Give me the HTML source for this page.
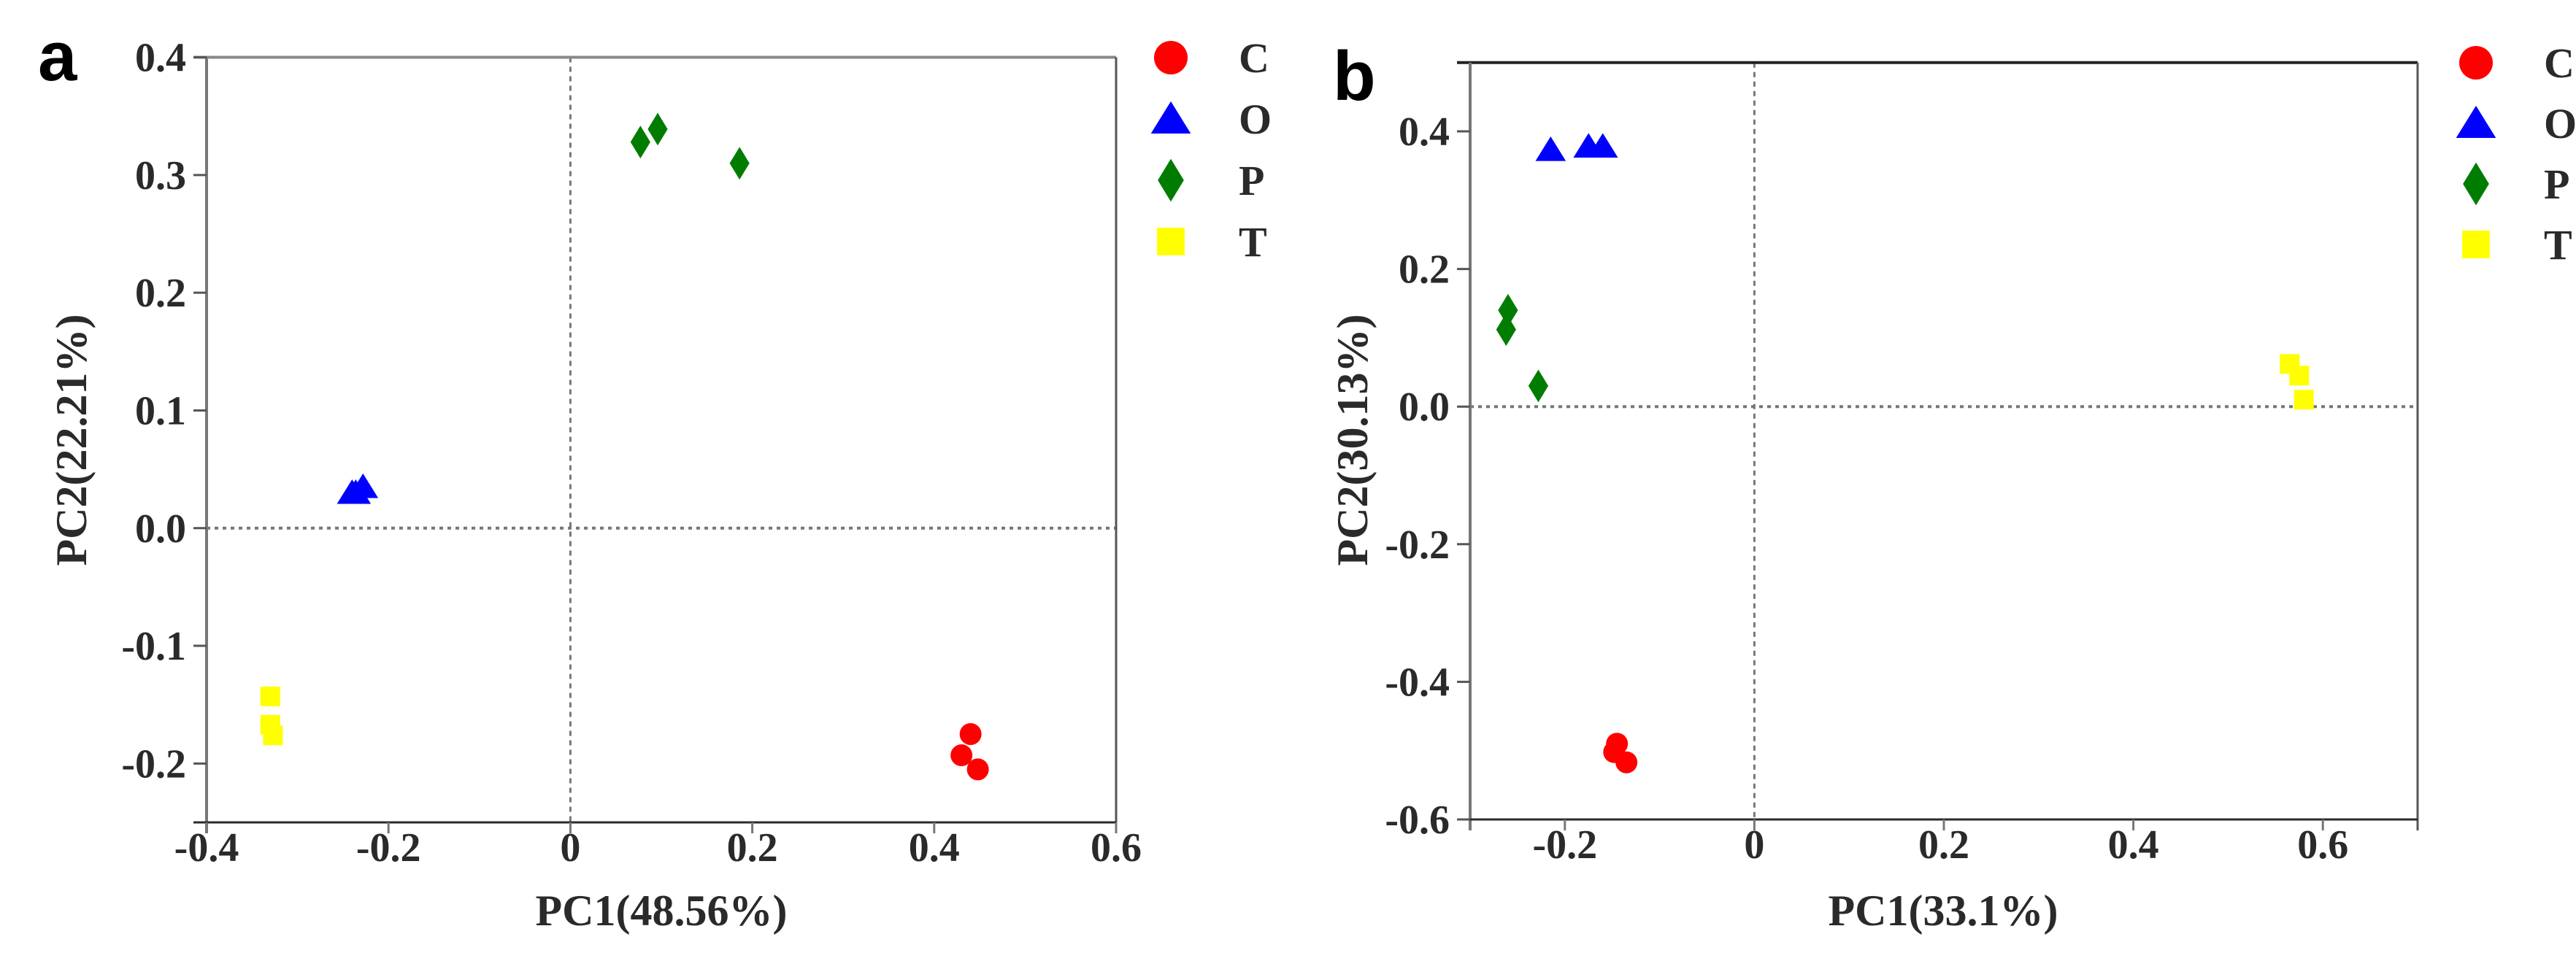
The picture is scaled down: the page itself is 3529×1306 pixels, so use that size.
<!DOCTYPE html>
<html><head><meta charset="utf-8"><style>
html,body{margin:0;padding:0;background:#fff;}
svg{display:block;}
text{font-family:"Liberation Serif",serif;font-weight:bold;fill:#2a2a2a;}
</style></head><body>
<svg id="chart" width="3529" height="1306" viewBox="0 0 3529 1306" xmlns="http://www.w3.org/2000/svg"></svg>
<script>
// Panel a data
const aCx=[0.440,0.430,0.448]; const aCy=[-0.175,-0.193,-0.205];
const aOx=[-0.240,-0.228,-0.236]; const aOy=[0.030,0.035,0.030];
const aPx=[0.077,0.096,0.186]; const aPy=[0.328,0.339,0.310];
const aTx=[-0.330,-0.330,-0.327]; const aTy=[-0.143,-0.167,-0.176];
const aXTicks=[-0.4,-0.2,0,0.2,0.4,0.6];
const aXTickLabels=["-0.4","-0.2","0","0.2","0.4","0.6"];
const aYTicks=[0.4,0.3,0.2,0.1,0.0,-0.1,-0.2];
const aYTickLabels=["0.4","0.3","0.2","0.1","0.0","-0.1","-0.2"];
// Panel b data
const bCx=[-0.145,-0.148,-0.135]; const bCy=[-0.490,-0.502,-0.517];
const bOx=[-0.215,-0.175,-0.160]; const bOy=[0.373,0.378,0.378];
const bPx=[-0.260,-0.262,-0.228]; const bPy=[0.140,0.112,0.030];
const bTx=[0.565,0.575,0.580]; const bTy=[0.062,0.045,0.010];
const bXTicks=[-0.2,0,0.2,0.4,0.6];
const bXTickLabels=["-0.2","0","0.2","0.4","0.6"];
const bYTicks=[0.4,0.2,0.0,-0.2,-0.4,-0.6];
const bYTickLabels=["0.4","0.2","0.0","-0.2","-0.4","-0.6"];
const groups=["C","O","P","T"];

const NS="http://www.w3.org/2000/svg";
const svg=document.getElementById('chart');
function el(tag,attrs,parent){const e=document.createElementNS(NS,tag);for(const k in attrs)e.setAttribute(k,attrs[k]);(parent||svg).appendChild(e);return e;}

function marker(g,type,cx,cy,s){
  let e;
  if(type==="C"){e=el('circle',{cx:cx,cy:cy,r:s,fill:'#ff0000'},g);}
  else if(type==="O"){e=el('polygon',{points:`${cx},${cy-s*1.15} ${cx-s*1.3},${cy+s*0.95} ${cx+s*1.3},${cy+s*0.95}`,fill:'#0000ff'},g);}
  else if(type==="P"){e=el('polygon',{points:`${cx},${cy-s*1.4} ${cx+s*0.85},${cy} ${cx},${cy+s*1.4} ${cx-s*0.85},${cy}`,fill:'#007d00'},g);}
  else {e=el('rect',{x:cx-s*0.9,y:cy-s*0.9,width:s*1.8,height:s*1.8,fill:'#ffff00'},g);}
  return e;
}

function panel(cfg){
  const g=el('g',{});
  
  
  const X=v=>cfg.x0+(v-cfg.xmin)*cfg.kx;
  const Y=v=>cfg.y0-(v-cfg.ymin)*cfg.ky;
  const L=X(cfg.xmin),R=X(cfg.xmax),T=Y(cfg.ymax),B=Y(cfg.ymin);
  // reference lines
  const vz=el('line',{x1:X(0),x2:X(0),y1:T,y2:B,stroke:'#777','stroke-width':3,'stroke-dasharray':'7,6'},g);
  
  
  const hz=el('line',{x1:L,x2:R,y1:Y(0),y2:Y(0),stroke:'#777','stroke-width':4,'stroke-dasharray':'5,6'},g);
  
  
  // frame
  const top=el('line',{x1:L-18,x2:R,y1:T,y2:T,stroke:cfg.topColor,'stroke-width':4},g);
  
  
  const rt=el('line',{x1:R,x2:R,y1:T,y2:B+15,stroke:'#555','stroke-width':3},g);
  
  
  const ya=el('line',{x1:L,x2:L,y1:T,y2:B+15,stroke:'#777','stroke-width':4},g);
  
  
  const xa=el('line',{x1:L-18,x2:R,y1:B,y2:B,stroke:'#2a2a2a','stroke-width':3},g);
  
  
  cfg.xt.forEach((v,i)=>{
    const t=el('line',{x1:X(v),x2:X(v),y1:B,y2:B+15,stroke:'#777','stroke-width':3},g);
    
    
    const tx=el('text',{x:X(v),y:B+53,'font-size':56,'text-anchor':'middle'},g);
    tx.textContent=cfg.xl[i];
    
    
  });
  cfg.yt.forEach((v,i)=>{
    const t=el('line',{x1:L-18,x2:L,y1:Y(v),y2:Y(v),stroke:'#555','stroke-width':3},g);
    
    
    const tx=el('text',{x:L-28,y:Y(v)+19,'font-size':56,'text-anchor':'end'},g);
    tx.textContent=cfg.yl[i];
    
    
  });
  const xt=el('text',{x:cfg.xtitleX,y:1268,'font-size':60,'text-anchor':'middle'},g);
  xt.textContent=cfg.xtitle;
  
  
  const ytt=el('text',{x:0,y:0,'font-size':60,'text-anchor':'middle',transform:`translate(${cfg.ytitleX},603) rotate(-90)`},g);
  ytt.textContent=cfg.ytitle;
  
  
  const lab=el('text',{x:cfg.labX,y:cfg.labY,'font-size':96,style:'font-family:"Liberation Sans",sans-serif;font-weight:bold;fill:#000'},g);
  lab.textContent=cfg.label;
  
  
  // points
  cfg.series.forEach(s=>{
    s.xs.forEach((xv,i)=>{
      const m=marker(g,s.type,X(xv),Y(s.ys[i]),s.type==="O"?16:(s.type==="P"?16:15));
      
      
    });
  });
  // legend
  groups.forEach((gname,i)=>{
    const ly=cfg.legY+i*cfg.legDy;
    const m=marker(g,gname,cfg.legX,ly,gname==="C"?23:(gname==="T"?21:21));
    
    
    const t=el('text',{x:cfg.legX+93,y:ly+20,'font-size':58},g);
    t.textContent=gname;
    
    
  });
}

panel({name:'panel-a',x0:283,xmin:-0.4,xmax:0.6,kx:1246,y0:1127,ymin:-0.25,ymax:0.4,ky:1613,
  xt:aXTicks,xl:aXTickLabels,yt:aYTicks,yl:aYTickLabels,topColor:'#888',
  xtitle:'PC1(48.56%)',xtitleX:906,ytitle:'PC2(22.21%)',ytitleX:118,label:'a',labX:52,labY:110,
  legX:1604,legY:79,legDy:84,
  series:[{type:'C',xs:aCx,ys:aCy},{type:'O',xs:aOx,ys:aOy},{type:'P',xs:aPx,ys:aPy},{type:'T',xs:aTx,ys:aTy}]});
panel({name:'panel-b',x0:2014,xmin:-0.3,xmax:0.7,kx:1298,y0:1123,ymin:-0.6,ymax:0.5,ky:943,
  xt:bXTicks,xl:bXTickLabels,yt:bYTicks,yl:bYTickLabels,topColor:'#222',
  xtitle:'PC1(33.1%)',xtitleX:2662,ytitle:'PC2(30.13%)',ytitleX:1873,label:'b',labX:1826,labY:137,
  legX:3392,legY:86,legDy:83,
  series:[{type:'C',xs:bCx,ys:bCy},{type:'O',xs:bOx,ys:bOy},{type:'P',xs:bPx,ys:bPy},{type:'T',xs:bTx,ys:bTy}]});
</script>
</body></html>
